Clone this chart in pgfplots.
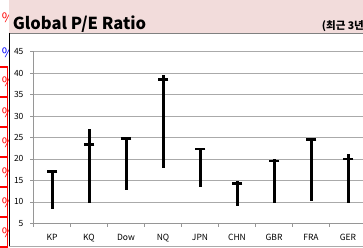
\documentclass[border=0pt]{standalone}
\usepackage{pgfplots}
\pgfplotsset{compat=1.18}
\usepackage{pgfplotstable}
\usepackage{fontspec}
\setmainfont{Noto Sans CJK KR}
\definecolor{pinkbg}{RGB}{242,220,219}
\definecolor{gridc}{RGB}{170,170,170}
\definecolor{axc}{RGB}{150,150,150}
\pgfplotstableread{
x h l c
0 17.2 8.3 17.1
1 27.0 9.8 23.4
2 24.9 12.8 24.8
3 39.6 18.0 38.6
4 22.6 13.5 22.3
5 14.9 9.1 14.3
6 19.9 9.8 19.5
7 24.8 10.2 24.6
8 21.1 9.7 20.0
}\pe
\begin{document}
\begin{tikzpicture}
\begin{axis}[
  name=ax,
  scale only axis, width=333pt, height=171.6pt,
  xmin=-0.5, xmax=8.5, ymin=5, ymax=45,
  ytick={5,10,...,45},
  xtick={-0.5,0.5,...,8.5}, xticklabels={},
  extra x ticks={0,1,2,3,4,5,6,7,8},
  extra x tick labels={KP,KQ,Dow,NQ,JPN,CHN,GBR,FRA,GER},
  extra x tick style={major tick length=0pt, grid=none, xticklabel style={yshift=-7pt}},
  axis lines*=left,
  axis line style={axc, line width=0.6},
  tick align=outside, major tick length=3.5pt,
  tick style={axc, line width=0.6},
  ymajorgrids, grid style={gridc, line width=0.6},
  /pgf/number format/assume math mode=true,
  tick label style={font=\fontsize{8.5}{10}\selectfont},
  yticklabel style={xshift=-3pt},
  clip=false,
]
\addplot[only marks, mark=-, mark size=5.4pt, line width=2.7pt, black,
  error bars/.cd, y dir=both, y explicit, error mark=none,
  error bar style={line width=3pt, black}]
  table[x=x, y=c, y error plus expr=\thisrow{h}-\thisrow{c}, y error minus expr=\thisrow{c}-\thisrow{l}] {\pe};
\coordinate (O) at (axis cs:-0.5,5);
\end{axis}
\begin{scope}[shift={(O)}, xshift=-33.5pt, yshift=-23.7pt, x=1pt, y=1pt]
\fill[pinkbg] (9,214) rectangle (363,247);
\draw[gray, line width=0.8] (9,214) -- (363,214);
\draw[black, line width=0.9] (9,0) -- (9,214);
\draw[gridc, line width=0.6] (9,1) -- (363,1);
\begin{scope}
\clip (0,0) rectangle (8.4,247);
\foreach \yy in {18,82,113,143,173,203,233}{
  \node[anchor=east, text=red, inner sep=0, font=\fontsize{13}{14}\selectfont] at (14,247-\yy) {\%};
}
\node[anchor=east, text=blue, inner sep=0, font=\fontsize{13}{14}\selectfont] at (14,247-53) {\%};
\foreach \i in {0,...,5}{
  \draw[red, line width=1.1] (-2,247-67-30*\i) rectangle (7.4,247-97-30*\i);
}
\end{scope}
\node[anchor=base west, inner sep=0, font=\fontsize{16.5}{18}\selectfont\bfseries] at (12.7,217.7) {Global P/E Ratio};
\node[anchor=base west, inner sep=0, font=\fontsize{10.5}{12}\selectfont\bfseries] at (321.7,217.7) {(최근 3년)};
\pgfresetboundingbox
\useasboundingbox (0,0) rectangle (363,247);
\end{scope}
\end{tikzpicture}
\end{document}
